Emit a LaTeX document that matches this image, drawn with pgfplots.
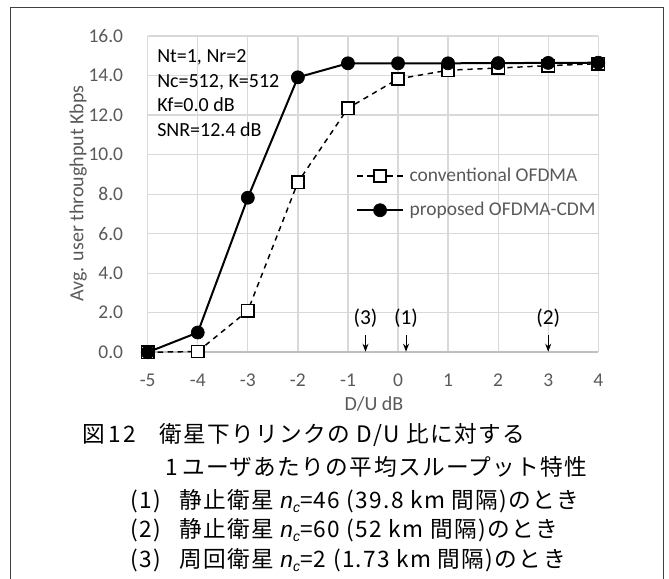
\documentclass[border=0pt]{standalone}
\usepackage{pgfplots}
\pgfplotsset{compat=1.18}
\usepackage{fontspec}
\usetikzlibrary{arrows.meta}
\setmainfont{Carlito}
\newfontfamily\jpfont[LetterSpace=6]{Noto Sans CJK JP}
\newfontfamily\latinf{Liberation Sans}
\definecolor{labelgray}{HTML}{595959}
\definecolor{gridgray}{HTML}{D9D9D9}
\definecolor{axisgray}{HTML}{BFBFBF}
\definecolor{framegray}{HTML}{404040}
\newcommand{\nc}{{\latinf\itshape n}\raisebox{-0.35ex}{\latinf\itshape\fontsize{10.5pt}{10.5pt}\selectfont c}}
\newcommand{\chartfont}{\fontsize{14.6pt}{17pt}\selectfont}

% throughput vs D/U
\pgfplotstableread{
du    conv   prop
-5    0.00   0.00
-4    0.04   1.00
-3    2.10   7.82
-2    8.60   13.91
-1    12.35  14.62
0     13.83  14.62
1     14.27  14.62
2     14.38  14.63
3     14.50  14.64
4     14.60  14.65
}\thrtable

\begin{document}
\begin{tikzpicture}
\path[use as bounding box] (0,0) rectangle (501.75pt,434.25pt);

\begin{axis}[
  at={(110.78pt,170.03pt)}, anchor=south west,
  scale only axis, width=337.95pt, height=237.2pt,
  xmin=-5, xmax=4, ymin=0, ymax=16,
  xtick={-5,-4,-3,-2,-1,0,1,2,3,4},
  xticklabels={-5,-4,-3,-2,-1,0,1,2,3,4},
  ytick={0,2,4,6,8,10,12,14,16},
  yticklabels={0.0,2.0,4.0,6.0,8.0,10.0,12.0,14.0,16.0},
  major tick length=0pt,
  grid=major,
  major grid style={draw=gridgray, line width=0.9pt},
  axis line style={draw=none},
  tick label style={font=\chartfont, text=labelgray, inner sep=0pt},
  xticklabel style={anchor=base, yshift=-25.3pt},
  yticklabel style={anchor=east, xshift=-18.3pt},
  clip=false,
  legend cell align=left,
  legend image code/.code={\draw[mark repeat=2,mark phase=2,#1] plot coordinates {(0pt,0pt) (17.1pt,0pt) (34.3pt,0pt)};},
  legend style={at={(0.4623,0.5032)}, anchor=west, draw=none, fill=none,
    inner sep=0pt, row sep=14pt, column sep=4.2pt,
    nodes={inner sep=0pt}, font=\chartfont, text=labelgray},
]
\draw[axisgray, line width=1.5pt] (axis cs:-5,0) -- (axis cs:4,0);

\addplot[black, line width=1.1pt, dash pattern=on 4pt off 3.5pt,
  mark=square*, mark size=4.6pt,
  mark options={solid, fill=white, draw=black, line width=1.1pt}]
  table[x=du, y=conv] {\thrtable};
\addlegendentry{conventional OFDMA}

\addplot[black, line width=1.5pt,
  mark=*, mark size=4.9pt,
  mark options={solid, fill=black, draw=black, line width=0.5pt}]
  table[x=du, y=prop] {\thrtable};
\addlegendentry{proposed OFDMA-CDM}

% operating points
\foreach \xa in {-0.65, 0.16, 3.0} {
  \edef\tmp{\noexpand\draw[black, line width=0.8pt, -{Stealth[length=6pt,width=4.5pt]}]
    (axis cs:\xa,0.88) -- (axis cs:\xa,0.03);}\tmp
}
\begin{scope}[every node/.style={font=\fontsize{16pt}{18pt}\selectfont, inner sep=0pt}]
\node at (axis cs:-0.65,1.72) {(3)};
\node at (axis cs:0.16,1.72) {(1)};
\node at (axis cs:3.0,1.72) {(2)};
\end{scope}
\end{axis}

\begin{scope}[x=0.75pt, y=-0.75pt, yshift=434.25pt]
  % outer frame
  \draw[framegray, line width=1pt] (10.7,590) -- (10.7,7.7) -- (663.3,7.7) -- (663.3,590);
  % parameters
  \begin{scope}[every node/.style={anchor=base west, inner sep=0pt, font=\fontsize{15pt}{18pt}\selectfont}]
    \node at (157,62.3) {Nt=1, Nr=2};
    \node at (157,88.0) {Nc=512, K=512};
    \node at (157,111.3) {Kf=0.0 dB};
    \node at (157,136.3) {SNR=12.4 dB};
  \end{scope}
  % axis titles
  \node[anchor=base, inner sep=0pt, font=\fontsize{15pt}{18pt}\selectfont, text=labelgray, rotate=90] at (83.3,193.5) {Avg. user throughput Kbps};
  \node[anchor=base, inner sep=0pt, font=\fontsize{15pt}{18pt}\selectfont, text=labelgray] at (374,411) {D/U dB};
  % caption
  \begin{scope}[every node/.style={anchor=base west, inner sep=0pt, font=\jpfont\fontsize{17pt}{20pt}\selectfont}]
    \node at (82.7,442.6) {図\hspace{2pt}1\hspace{2pt}2};
    \node at (159,442.6) {衛星下りリンクの D/U 比に対する};
    \node at (165,475.6) {1};
    \node at (182,475.6) {ユーザあたりの平均スループット特性};
    \node at (130.7,508.6) {(1)};
    \node at (179,508.6) {静止衛星 \nc=46 (39.8 km 間隔)のとき};
    \node at (130.7,537.6) {(2)};
    \node at (179,537.6) {静止衛星 \nc=60 (52 km 間隔)のとき};
    \node at (130.7,567.6) {(3)};
    \node at (179,567.6) {周回衛星 \nc=2 (1.73 km 間隔)のとき};
  \end{scope}
\end{scope}
\end{tikzpicture}
\end{document}
